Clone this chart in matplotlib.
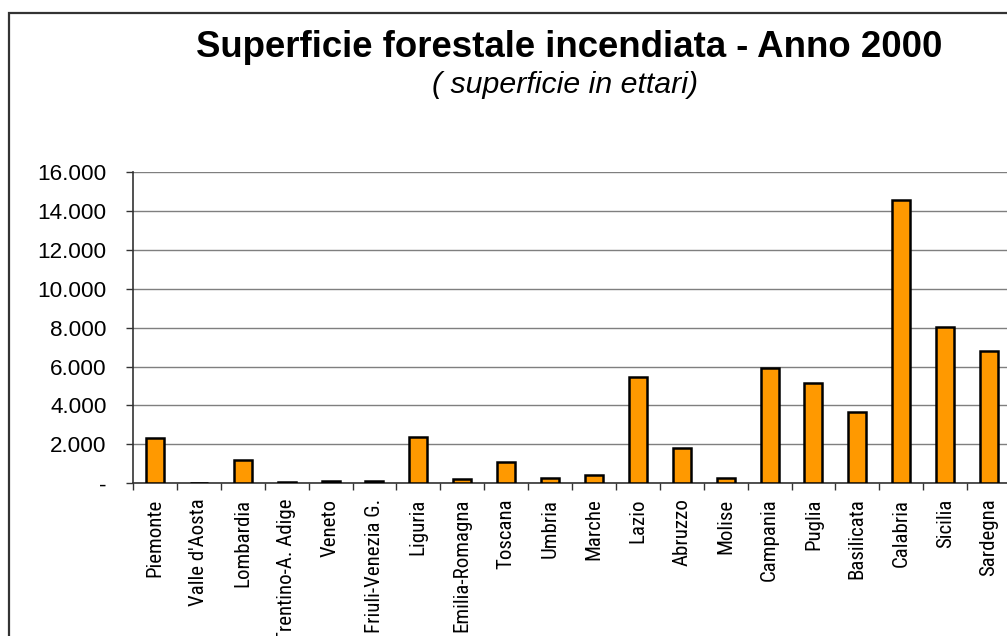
import matplotlib
matplotlib.use("Agg")
import matplotlib.pyplot as plt
from matplotlib import font_manager
from matplotlib.patches import Rectangle
from matplotlib.ticker import FixedLocator, FuncFormatter

regions = ["Piemonte", "Valle d'Aosta", "Lombardia", "Trentino-A. Adige", "Veneto",
           "Friuli-Venezia G.", "Liguria", "Emilia-Romagna", "Toscana", "Umbria",
           "Marche", "Lazio", "Abruzzo", "Molise", "Campania", "Puglia",
           "Basilicata", "Calabria", "Sicilia", "Sardegna"]
hectares = [2330, 0, 1200, 90, 140, 100, 2360, 200, 1100, 290,
            440, 5480, 1810, 290, 5920, 5170, 3660, 14560, 8030, 6780]
y_ticks = [0, 2000, 4000, 6000, 8000, 10000, 12000, 14000, 16000]

avail = {f.name for f in font_manager.fontManager.ttflist}
narrow = "DejaVu Sans"
for cand in ["Liberation Sans Narrow", "DejaVu Sans Condensed", "Roboto Condensed", "Open Sans Condensed"]:
    if cand in avail:
        narrow = cand
        break

W, H = 1007, 636
fig = plt.figure(figsize=(W / 100, H / 100), dpi=100)
fig.patch.set_facecolor("white")

# outer frame (cropped on right and bottom)
fig.add_artist(Rectangle((8.5 / W, -0.1), 1.2, 1 - 13 / H + 0.1, transform=fig.transFigure,
                         fill=False, edgecolor="#333333", linewidth=1.6))

left, right = 133 / W, 1011 / W
bottom, top = (H - 483.3) / H, (H - 172) / H
ax = fig.add_axes([left, bottom, right - left, top - bottom])

x = list(range(len(regions)))
ax.bar(x, hectares, width=0.41, color="#FF9900", edgecolor="black", linewidth=1.8, zorder=3)

ax.set_xlim(-0.5, len(regions) - 0.5)
ax.set_ylim(0, 16000)
ax.yaxis.set_major_locator(FixedLocator(y_ticks))
ax.yaxis.set_major_formatter(FuncFormatter(
    lambda v, p: "-" if v == 0 else f"{int(v):,}".replace(",", ".")))
ax.grid(axis="y", color="#7f7f7f", linewidth=1.0, zorder=1)

ax.set_xticks(x)
ax.set_xticklabels(regions, rotation=90, fontfamily=narrow, fontsize=15, va="top", ha="center")
ax.xaxis.set_minor_locator(FixedLocator([i - 0.5 for i in range(len(regions) + 1)]))
ax.tick_params(axis="x", which="major", length=0, pad=11)
ax.tick_params(axis="x", which="minor", length=5, width=1, color="#333333", direction="out")
ax.tick_params(axis="y", length=5, width=1, color="#333333", direction="out", pad=14)
for lab in ax.get_yticklabels():
    lab.set_fontfamily("Liberation Sans")
    lab.set_fontsize(16.2)

for s in ["top", "right"]:
    ax.spines[s].set_visible(False)
ax.spines["left"].set_color("#333333")
ax.spines["bottom"].set_color("#333333")
ax.spines["left"].set_linewidth(1.2)
ax.spines["bottom"].set_linewidth(1.2)

fig.text(569 / W, 1 - 57 / H, "Superficie forestale incendiata - Anno 2000",
         ha="center", va="baseline", fontsize=26.4, fontweight="bold", fontfamily="Liberation Sans")
fig.text(565 / W, 1 - 93 / H, "( superficie in ettari)",
         ha="center", va="baseline", fontsize=21.8, fontstyle="italic", fontfamily="Liberation Sans")

fig.savefig("out.png", dpi=100)
